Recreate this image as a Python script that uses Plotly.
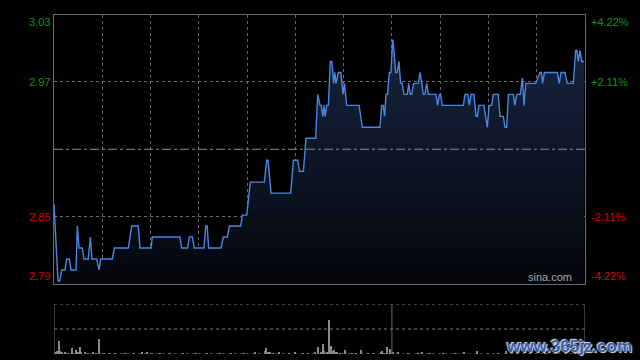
import plotly.graph_objects as go

# ---------------- data ----------------
prev_close = 2.91
pct_span = 0.0422

# intraday price (minute offset from open, price)
minutes = [0, 2.5, 3.5, 4.8, 6.8, 7.9, 9.5, 10.6, 13.7, 14.5, 15.5, 17.6, 18.6, 21.3, 22.6, 23.6,
           26.5, 28, 29, 36.2, 37.5, 46.2, 48.3, 52.4, 53.4, 60.3, 61.1, 78.3, 79.3, 83, 84.1, 86,
           87.2, 93.2, 94.3, 95.2, 96.1, 103.8, 105.2, 107.7, 109, 116, 117, 119.8, 122, 130.7,
           132.2, 133, 134.9, 147.1, 148.8, 151.5, 152.5, 155, 156.6, 162.6, 163.9, 165.3, 166,
           167, 167.8, 168.5, 169.5, 170.5, 171.7, 172.7, 173.8, 174.5, 175.3, 176.7, 178.3,
           179.6, 180.5, 181.9, 189.6, 191.6, 202.6, 203.6, 204.6, 205.5, 206.3, 207.3, 208.4,
           209.4, 210.5, 211.3, 212.3, 213.3, 214.4, 215.4, 216.4, 217.5, 219.6, 220.4, 221.4,
           222.3, 223.5, 226.4, 227.5, 228.5, 229.5, 230.5, 231.6, 232.7, 237.4, 238.4, 239.5,
           240.3, 241.3, 254.4, 255.4, 257.1, 258.1, 259.2, 261, 262.3, 263.1, 264.1, 267.2,
           268.2, 269.3, 270.4, 272, 273, 276.1, 277.2, 279.2, 280.3, 281.3, 282.4, 285.5, 286.4,
           287.6, 289.8, 291.1, 292.1, 293.2, 299.4, 302, 303, 303.6, 304.8, 312.8, 314, 315.1,
           317.6, 319, 322.7, 324.2, 325, 325.8, 326.9, 328, 329.5]
prices = [2.86, 2.79, 2.79, 2.80, 2.80, 2.81, 2.81, 2.80, 2.80, 2.84, 2.82, 2.82, 2.81, 2.81, 2.83, 2.81,
          2.81, 2.80, 2.81, 2.81, 2.82, 2.82, 2.84, 2.84, 2.82, 2.82, 2.83, 2.83, 2.82, 2.82, 2.83, 2.83,
          2.82, 2.82, 2.84, 2.84, 2.82, 2.82, 2.83, 2.83, 2.84, 2.84, 2.85, 2.85, 2.88, 2.88,
          2.90, 2.90, 2.87, 2.87, 2.90, 2.90, 2.89, 2.89, 2.92, 2.92, 2.96, 2.95, 2.95,
          2.94, 2.95, 2.94, 2.95, 2.95, 2.99, 2.99, 2.97, 2.98, 2.97, 2.98, 2.98,
          2.96, 2.97, 2.95, 2.95, 2.93, 2.93, 2.95, 2.95, 2.94, 2.96, 2.96, 2.98,
          2.98, 3.01, 3.00, 2.98, 2.98, 2.99, 2.97, 2.97, 2.96, 2.96, 2.97, 2.96,
          2.96, 2.97, 2.97, 2.98, 2.97, 2.96, 2.96, 2.97, 2.96, 2.96, 2.95, 2.96,
          2.96, 2.95, 2.95, 2.96, 2.96, 2.95, 2.96, 2.96, 2.94, 2.94, 2.95, 2.95,
          2.94, 2.93, 2.95, 2.95, 2.96, 2.96, 2.94, 2.94, 2.93, 2.93, 2.96, 2.96, 2.95,
          2.96, 2.96, 2.975, 2.95, 2.97, 2.97, 2.98, 2.98, 2.97, 2.98, 2.98, 2.97, 2.98,
          2.98, 2.97, 2.97, 3.00, 3.00, 2.99, 3.00, 2.99, 2.99]

# volume bars (minute offset, shares)
vol_minutes = [0, 1, 2, 3, 4, 5, 7, 9, 11, 12, 14, 15, 16, 17, 19, 21, 24, 26, 28, 31, 35, 38, 44,
               50, 55, 58, 61, 66, 72, 80, 88, 95, 103, 110, 118, 125, 131, 132, 133, 134, 136,
               140, 146, 150, 155, 158, 162, 164, 166, 167, 168, 169, 170, 171, 172, 173, 174,
               175, 176, 178, 181, 185, 188, 191, 195, 199, 203, 204, 205, 207, 209, 211, 214,
               220, 226, 229, 234, 242, 249, 255, 263, 270, 276, 281, 288, 296, 305, 312, 318, 324]
vol_values = [20, 24, 60, 270, 60, 30, 24, 20, 130, 16, 80, 30, 150, 40, 24, 16, 30, 12, 310, 14, 20,
              10, 12, 14, 36, 30, 12, 14, 12, 10, 14, 12, 12, 16, 14, 30, 60, 130, 50, 28, 16,
              30, 14, 50, 20, 14, 24, 150, 40, 205, 70, 16, 30, 690, 170, 70, 80, 50, 30, 16,
              86, 16, 12, 86, 20, 14, 40, 55, 16, 150, 104, 30, 30, 20, 16, 40, 14, 20, 16, 40,
              55, 16, 14, 55, 14, 12, 16, 14, 20, 14]

left_labels = ["3.03", "2.97", "2.85", "2.79"]
right_labels = ["+4.22%", "+2.11%", "-2.11%", "-4.22%"]
label_levels = [pct_span, pct_span / 2, -pct_span / 2, -pct_span]

# ---------------- figure ----------------
y_min = prev_close * (1 - pct_span)
y_max = prev_close * (1 + pct_span)
grid_hi = prev_close * (1 + pct_span / 2)
grid_lo = prev_close * (1 - pct_span / 2)

GREEN = "#0a9a0a"
RED = "#d40000"
FONT = "Liberation Sans"

fig = go.Figure()
fig.add_trace(go.Scatter(
    x=minutes, y=prices, mode="lines",
    line=dict(color="#4a86e0", width=1.4),
    fill="tozeroy",
    fillgradient=dict(type="vertical", start=y_min, stop=3.01,
                      colorscale=[[0, "#04060b"], [1, "#172540"]]),
    hoverinfo="skip", xaxis="x", yaxis="y"))

fig.add_trace(go.Bar(
    x=vol_minutes, y=vol_values, width=0.7,
    marker=dict(color="#8a8a8a", line=dict(width=0)),
    xaxis="x2", yaxis="y2", hoverinfo="skip"))

main_dom = [1 - 284 / 360, 1 - 14.5 / 360]
vol_dom = [1 - 354 / 360, 1 - 304 / 360]

fig.update_layout(
    width=640, height=360,
    paper_bgcolor="#000000", plot_bgcolor="#000000",
    margin=dict(l=54, r=55, t=0, b=0, pad=0),
    showlegend=False,
    bargap=0,
    xaxis=dict(range=[0, 330], domain=[0, 1], tick0=0, dtick=30, showgrid=True,
               gridcolor="#6a6a6a", griddash="dot", gridwidth=1, showticklabels=False,
               zeroline=False, showline=True, linecolor="#6a6a6a", mirror=True, ticks=""),
    yaxis=dict(range=[y_min, y_max], domain=main_dom, tickvals=[grid_lo, grid_hi],
               showgrid=True, gridcolor="#6a6a6a", griddash="dot", gridwidth=1,
               showticklabels=False, zeroline=False, showline=True, linecolor="#6a6a6a",
               mirror=True, ticks=""),
    xaxis2=dict(range=[0, 330], domain=[0, 1], anchor="y2", showgrid=False,
                showticklabels=False, zeroline=False, showline=False, ticks=""),
    yaxis2=dict(range=[0, 1000], domain=vol_dom, anchor="x2", showgrid=False,
                showticklabels=False, zeroline=False, showline=False, ticks=""),
)

# mid line (previous close)
fig.add_shape(type="line", xref="x", yref="y", x0=0, x1=330, y0=prev_close, y1=prev_close,
              line=dict(color="#8c8c8c", width=1, dash="dashdot"))

# volume panel frame
for yy in [0, 500, 1000]:
    fig.add_shape(type="line", xref="x2", yref="y2", x0=0, x1=330, y0=yy, y1=yy,
                  line=dict(color="#7a7a7a", width=1, dash="dot"))
for xx in [0, 210, 330]:
    fig.add_shape(type="line", xref="x2", yref="y2", x0=xx, x1=xx, y0=0, y1=1000,
                  line=dict(color="#6a6a6a", width=1))

# axis labels
for lab_l, lab_r, lvl in zip(left_labels, right_labels, label_levels):
    yv = prev_close * (1 + lvl)
    col = GREEN if lvl > 0 else RED
    if lvl == pct_span:
        ya = "top"
    elif lvl == -pct_span:
        ya = "bottom"
    else:
        ya = "middle"
    fig.add_annotation(x=0, xref="paper", xanchor="right", xshift=-2, y=yv, yref="y",
                       yanchor=ya, text=lab_l, showarrow=False,
                       font=dict(family=FONT, size=11, color=col))
    fig.add_annotation(x=1, xref="paper", xanchor="left", xshift=4, y=yv, yref="y",
                       yanchor=ya, text=lab_r, showarrow=False,
                       font=dict(family=FONT, size=11, color=col))

# sina.com mark
fig.add_annotation(x=1, xref="paper", xanchor="right", xshift=-11, y=y_min, yref="y",
                   yanchor="bottom", yshift=-1, text="sina.com", showarrow=False,
                   font=dict(family=FONT, size=11, color="#a8a8a8"))

# site watermark
fig.add_annotation(x=1.092, xref="paper", y=0, yref="paper", text="www.365jz.com",
                   showarrow=False, xanchor="right", yanchor="bottom", yshift=2,
                   font=dict(family="Liberation Sans", size=17, color="#3560a8", weight="bold",
                             shadow="1px 1px 1px #dfe8f7, -1px -1px 1px #dfe8f7"))

fig.write_html("out.html", config={"displayModeBar": False},
               post_script="document.body.style.margin='0';document.body.style.background='#000';")
